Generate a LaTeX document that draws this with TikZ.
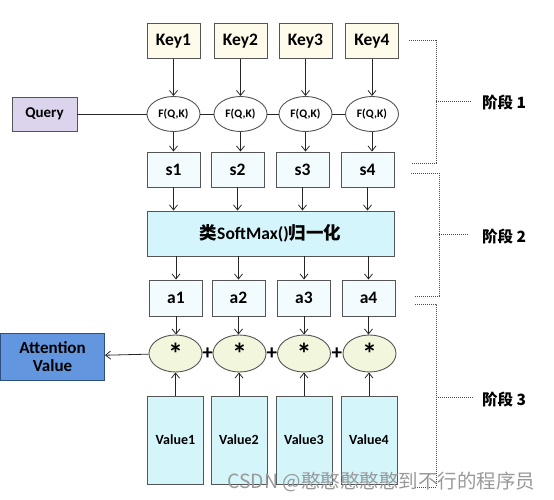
\documentclass[tikz,border=0pt]{standalone}
\usepackage{fontspec}
\setmainfont{Carlito}
\newfontfamily\cjk{Noto Sans CJK SC}
\usetikzlibrary{shapes.geometric,arrows.meta}
\definecolor{keyfill}{HTML}{FFFBEB}
\definecolor{qfill}{HTML}{DCD3EC}
\definecolor{sfill}{HTML}{F2FBFE}
\definecolor{smfill}{HTML}{D4F5FB}
\definecolor{stfill}{HTML}{F1F6DD}
\definecolor{vfill}{HTML}{D4F6FB}
\definecolor{attfill}{HTML}{6297E0}
\definecolor{attdraw}{HTML}{2F4F80}
\definecolor{edge}{HTML}{555555}
\tikzset{
  base/.style={draw=edge, line width=0.9pt, inner sep=0pt, font=\bfseries\fontsize{17.5}{19}\selectfont},
  keybox/.style={base, rectangle, fill=keyfill, minimum width=53pt, minimum height=35pt},
  fbox/.style={base, ellipse, fill=white, minimum width=53pt, minimum height=35pt, font=\bfseries\fontsize{11.5}{13}\selectfont},
  qbox/.style={base, rectangle, fill=qfill, minimum width=65pt, minimum height=34pt, font=\bfseries\fontsize{15}{17}\selectfont},
  sbox/.style={base, rectangle, fill=sfill, minimum width=53pt, minimum height=35pt},
  smbox/.style={base, rectangle, fill=smfill, minimum width=247pt, minimum height=45pt, font=\bfseries\fontsize{17.5}{19}\selectfont},
  stbox/.style={base, ellipse, fill=stfill, minimum width=53pt, minimum height=37pt, font=\bfseries\fontsize{30}{30}\selectfont},
  vbox/.style={base, rectangle, fill=vfill, minimum width=56pt, minimum height=88pt, font=\bfseries\fontsize{14}{16}\selectfont},
  attbox/.style={base, rectangle, draw=attdraw, fill=attfill, minimum width=104pt, minimum height=47pt, align=center, font=\bfseries\fontsize{17}{17.5}\selectfont},
  plus/.style={inner sep=0pt, font=\bfseries\fontsize{21}{21}\selectfont},
  arr/.style={draw=black!85, line width=0.8pt, -{Straight Barb[length=5pt,width=8pt]}},
  conn/.style={draw=black!85, line width=0.8pt},
  brk/.style={draw=black!70, line width=1pt, densely dotted},
  stage/.style={anchor=west, inner sep=0pt, font=\cjk\bfseries\fontsize{15.5}{17}\selectfont},
  wm/.style={anchor=west, inner sep=0pt, text=black!40, font=\cjk\fontsize{19.5}{21}\selectfont}
}
\newcommand{\mystar}{\raisebox{-9pt}{*}}
\begin{document}
\begin{tikzpicture}[x=1pt,y=-1pt]
\useasboundingbox (0,0) rectangle (554,500);
% keys
\node[keybox] (k1) at (173.5,41) {Key1};
\node[keybox] (k2) at (240.5,41) {Key2};
\node[keybox] (k3) at (305.5,41) {Key3};
\node[keybox] (k4) at (372,41) {Key4};
% F(Q,K)
\node[fbox] (f1) at (173.5,114) {F(Q,K)};
\node[fbox] (f2) at (240.5,114) {F(Q,K)};
\node[fbox] (f3) at (305.5,114) {F(Q,K)};
\node[fbox] (f4) at (372,114) {F(Q,K)};
\node[qbox] (q) at (44.5,114) {Query};
% s
\node[sbox] (s1) at (173.5,169.5) {s1};
\node[sbox] (s2) at (237.5,169.5) {s2};
\node[sbox] (s3) at (302.5,169.5) {s3};
\node[sbox] (s4) at (367.5,169.5) {s4};
% softmax
\node[smbox] (sm) at (270.5,233.5) {{\cjk 类}SoftMax(){\cjk 归一化}};
% a
\node[sbox, minimum height=36pt] (a1) at (176,298) {a1};
\node[sbox, minimum height=36pt] (a2) at (238.5,298) {a2};
\node[sbox, minimum height=36pt] (a3) at (304,298) {a3};
\node[sbox, minimum height=36pt] (a4) at (368.5,298) {a4};
% stars
\node[stbox] (t1) at (175.5,353.5) {\mystar};
\node[stbox] (t2) at (239.5,353.5) {\mystar};
\node[stbox] (t3) at (304,353.5) {\mystar};
\node[stbox] (t4) at (369.5,353.5) {\mystar};
\node[attbox] (att) at (52.5,356.5) {Attention\\Value};
% values
\node[vbox] (v1) at (175.5,440) {Value1};
\node[vbox] (v2) at (239,440) {Value2};
\node[vbox] (v3) at (304,440) {Value3};
\node[vbox] (v4) at (369,440) {Value4};
% plus signs
\path (t1.east) -- (t2.west) node[plus, midway] (p1) {+};
\path (t2.east) -- (t3.west) node[plus, midway] (p2) {+};
\path (t3.east) -- (t4.west) node[plus, midway] (p3) {+};
% connectors
\foreach \i in {1,2,3,4} {
  \draw[arr] (k\i) -- (f\i);
  \draw[arr] (f\i.south) -- (f\i.south |- s\i.north);
  \draw[arr] (s\i.south) -- (s\i.south |- sm.north);
  \draw[arr] (sm.south -| a\i.north) -- (a\i.north);
  \draw[arr] (a\i.south) -- (a\i.south |- t\i.north);
  \draw[arr] (v\i.north) -- (v\i.north |- t\i.south);
}
\draw[conn] (q) -- (f1);
\draw[conn] (f1) -- (f2);
\draw[conn] (f2) -- (f3);
\draw[conn] (f3) -- (f4);
\draw[arr] (t1) -- (att);
% brackets
\coordinate (b1a) at (409,41);
\coordinate (b1b) at (436,41);
\coordinate (b1c) at (436,163);
\coordinate (b1d) at (411,163);
\coordinate (b1m) at (436,102);
\coordinate (b1e) at (471,102);
\draw[brk] (b1a) -- (b1b) -- (b1c) -- (b1d);
\draw[brk] (b1m) -- (b1e);
\node[stage] (l1) at (482,103) {阶段 1};
\coordinate (b2a) at (411,173);
\coordinate (b2b) at (439,173);
\coordinate (b2c) at (439,296);
\coordinate (b2d) at (415,296);
\coordinate (b2m) at (439,234);
\coordinate (b2e) at (469,234);
\draw[brk] (b2a) -- (b2b) -- (b2c) -- (b2d);
\draw[brk] (b2m) -- (b2e);
\node[stage] (l2) at (482,237) {阶段 2};
\coordinate (b3a) at (415,304);
\coordinate (b3b) at (436,304);
\coordinate (b3c) at (436,487);
\coordinate (b3d) at (415,487);
\coordinate (b3m) at (436,397);
\coordinate (b3e) at (474,397);
\draw[brk] (b3a) -- (b3b) -- (b3c) -- (b3d);
\draw[brk] (b3m) -- (b3e);
\node[stage] (l3) at (482,400) {阶段 3};
% watermark
\node[wm] (wmk) at (227,482) {CSDN @憨憨憨憨憨到不行的程序员};
\end{tikzpicture}
\end{document}
